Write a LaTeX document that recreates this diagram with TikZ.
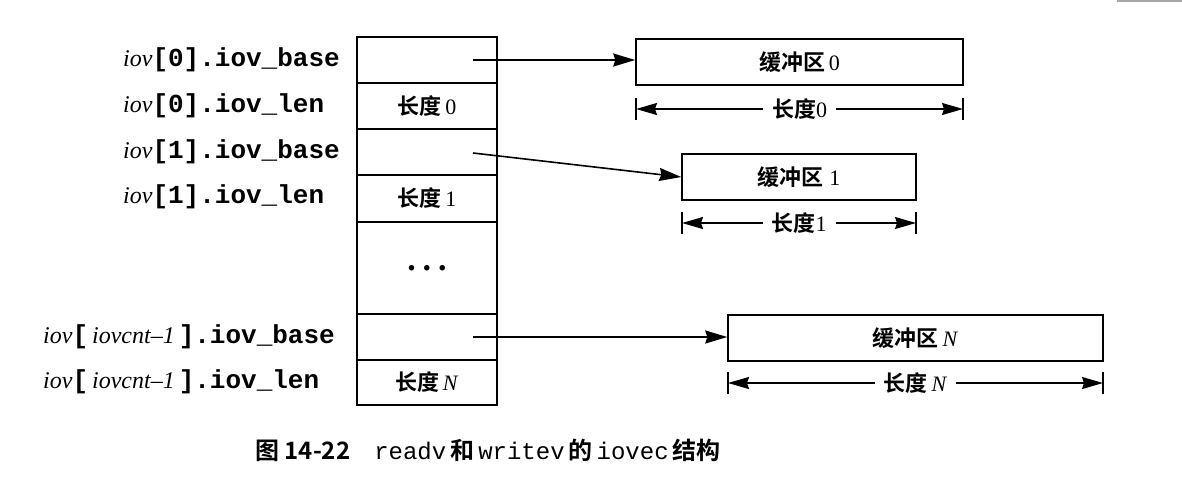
\documentclass[tikz,border=0pt]{standalone}
\usepackage{fontspec}
\setmainfont{Liberation Serif}
\setmonofont{Liberation Mono}
\newfontfamily\cjk{Noto Sans CJK SC}[BoldFont={Noto Sans CJK SC Bold}]
\usetikzlibrary{arrows.meta}
\newcommand\mycode[1]{{\fontsize{26}{28}\selectfont\ttfamily\bfseries #1}}
\newcommand\myzh[1]{{\cjk\bfseries #1}}
\begin{document}
\begin{tikzpicture}[x=1pt,y=-1pt,
  cell/.style={draw, line width=1.5pt, minimum width=140pt, inner sep=0pt, font=\fontsize{22}{24}\selectfont},
  buf/.style={draw, line width=1.5pt, minimum height=46pt, inner sep=0pt, font=\fontsize{22}{24}\selectfont},
  lbl/.style={anchor=west, inner sep=0pt, font=\fontsize{24}{28}\selectfont},
  ptr/.style={line width=1.6pt, -{Stealth[length=22pt,width=13pt,inset=2pt]}},
  dim/.style={line width=1.5pt, {Stealth[length=21pt,width=12pt,inset=2pt]}-{Stealth[length=21pt,width=12pt,inset=2pt]}},
  dimtxt/.style={fill=white, inner xsep=9pt, inner ysep=2pt, font=\fontsize{22}{24}\selectfont},
  tick/.style={line width=1.5pt},
  caption/.style={inner sep=0pt, font=\fontsize{24}{28}\selectfont}]
\useasboundingbox (0,0) rectangle (1182,480);
\fill[gray!70] (1117,0) rectangle (1182,1.5);
% central array
\node[cell, minimum height=46pt] (r0) at (427,60) {};
\node[cell, minimum height=46pt] (r1) at (427,106) {\myzh{长度}\,0};
\node[cell, minimum height=46pt] (r2) at (427,152) {};
\node[cell, minimum height=47pt] (r3) at (427,198.5) {\myzh{长度}\,1};
\node[cell, minimum height=92pt] (r4) at (427,268) {\fontsize{34}{34}\selectfont\textbf{.\hspace{7pt}.\hspace{7pt}.}};
\node[cell, minimum height=46pt] (r5) at (427,337) {};
\node[cell, minimum height=45pt] (r6) at (427,382.5) {\myzh{长度}\,\textit{N}};
% labels
\node[lbl] (l0) at (123,60) {\textit{iov}\mycode{[0].iov\_base}};
\node[lbl] (l1) at (123,106) {\textit{iov}\mycode{[0].iov\_len}};
\node[lbl] (l2) at (123,152) {\textit{iov}\mycode{[1].iov\_base}};
\node[lbl] (l3) at (123,197) {\textit{iov}\mycode{[1].iov\_len}};
\node[lbl] (l5) at (43,337) {\textit{iov}\mycode{[}\,\textit{iovcnt–1}\,\mycode{].iov\_base}};
\node[lbl] (l6) at (43,382) {\textit{iov}\mycode{[}\,\textit{iovcnt–1}\,\mycode{].iov\_len}};
% buffers
\node[buf, minimum width=327pt] (b0) at (799.5,62) {\myzh{缓冲区}\,0};
\node[buf, minimum width=234pt] (b1) at (799,177) {\myzh{缓冲区}\ 1};
\node[buf, minimum width=375pt] (bN) at (915.5,338) {\myzh{缓冲区}\,\textit{N}};
% pointers
\coordinate (s0) at (473,60);
\coordinate (s1) at (473,153);
\coordinate (sN) at (473,337);
\draw[ptr] (s0) -- (s0 -| b0.west);
\draw[ptr] (s1) -- (b1.west);
\draw[ptr] (sN) -- (sN -| bN.west);
% dimensions
\coordinate (d0l) at (636,109); \coordinate (d0r) at (963,109);
\coordinate (d1l) at (682,223); \coordinate (d1r) at (916,223);
\coordinate (dNl) at (728,383); \coordinate (dNr) at (1103,383);
\draw[dim] (d0l) -- (d0r) node[midway, dimtxt] (t0) {\myzh{长度}0};
\draw[dim] (d1l) -- (d1r) node[midway, dimtxt] (t1) {\myzh{长度}1};
\draw[dim] (dNl) -- (dNr) node[midway, dimtxt] (tN) {\myzh{长度}\,\textit{N}};
\foreach \p in {d0l,d0r,d1l,d1r,dNl,dNr}
  \draw[tick] ([yshift=-11pt]\p) -- ([yshift=11pt]\p);
% caption
\node[caption] (cap) at (488,450) {\myzh{图 14-22}\quad{\ttfamily readv}\,\myzh{和}\,{\ttfamily writev}\,\myzh{的}\,{\ttfamily iovec}\,\myzh{结构}};
\end{tikzpicture}
\end{document}
